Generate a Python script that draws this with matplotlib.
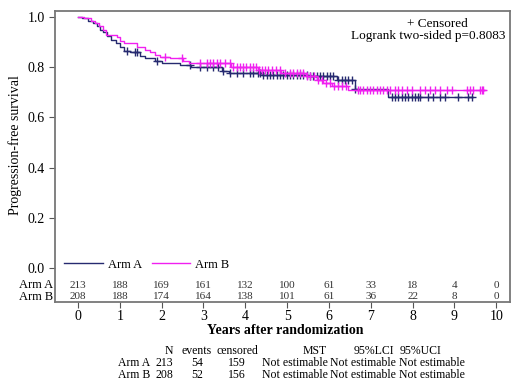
import numpy as np
import matplotlib.pyplot as plt

plt.rcParams['font.family'] = ['Liberation Serif', 'DejaVu Serif']

# Kaplan-Meier step points (time in years, survival after the step)
a_times = [0, 0.10, 0.25, 0.35, 0.45, 0.52, 0.60, 0.70, 0.80, 0.90, 1.00, 1.10, 1.25,
           1.48, 1.60, 1.85, 2.00, 2.45, 2.70, 3.45, 3.60, 4.40, 5.50, 6.20, 6.62, 7.42]
a_surv = [1.0, 0.995, 0.985, 0.975, 0.965, 0.95, 0.94, 0.925, 0.91, 0.895, 0.88, 0.865, 0.86,
          0.845, 0.835, 0.825, 0.815, 0.81, 0.80, 0.785, 0.775, 0.77, 0.765, 0.75, 0.712, 0.682]
a_end = 9.45
a_cens = [1.17, 1.36, 1.41, 1.89, 2.68, 2.92, 3.09, 3.23, 3.35, 3.47, 3.64, 3.80, 3.95, 4.11,
          4.19, 4.31, 4.35, 4.43, 4.52, 4.59, 4.67, 4.76, 4.83, 4.90, 5.00, 5.07, 5.14, 5.24,
          5.31, 5.38, 5.48, 5.55, 5.62, 5.72, 5.79, 5.86, 5.96, 6.03, 6.10, 6.22, 6.32, 6.39,
          6.46, 6.56, 6.63, 7.51, 7.58, 7.66, 7.75, 7.82, 7.89, 7.99, 8.06, 8.13, 8.18, 8.37,
          8.49, 8.66, 8.78, 9.09, 9.33, 9.43]

b_times = [0, 0.15, 0.30, 0.40, 0.50, 0.60, 0.68, 0.93, 1.00, 1.10, 1.40, 1.60, 1.72, 1.85,
           1.96, 2.20, 2.50, 2.65, 3.65, 4.30, 4.85, 5.45, 5.72, 5.86, 6.08, 6.45]
b_surv = [1.0, 0.995, 0.985, 0.975, 0.965, 0.95, 0.93, 0.92, 0.905, 0.895, 0.88, 0.87, 0.86,
          0.85, 0.84, 0.835, 0.825, 0.815, 0.80, 0.79, 0.777, 0.765, 0.75, 0.738, 0.726, 0.71]
b_end = 9.70
b_cens = [2.08, 2.49, 2.92, 3.09, 3.16, 3.23, 3.33, 3.40, 3.52, 3.64, 3.71, 3.80, 3.88, 3.95,
          4.02, 4.11, 4.19, 4.26, 4.33, 4.40, 4.47, 4.55, 4.64, 4.74, 4.83, 4.95, 5.07, 5.14,
          5.24, 5.31, 5.38, 5.48, 5.55, 5.65, 5.74, 5.84, 5.93, 6.03, 6.12, 6.22, 6.32, 6.41,
          6.70, 6.75, 6.82, 6.91, 6.99, 7.06, 7.15, 7.22, 7.30, 7.39, 7.46, 7.58, 7.66, 7.75,
          7.87, 7.99, 8.18, 8.30, 8.42, 8.54, 8.66, 8.83, 8.95, 9.31, 9.38, 9.45, 9.62, 9.67, 9.69]

years = list(range(0, 11))
risk_a = [213, 188, 169, 161, 132, 100, 61, 33, 18, 4, 0]
risk_b = [208, 188, 174, 164, 138, 101, 61, 36, 22, 8, 0]

navy = '#262a70'
magenta = '#f020f0'

fig = plt.figure(figsize=(5.2, 3.86), dpi=100)
ax = fig.add_axes([0.1058, 0.2176, 0.875, 0.754])


def km(ax, times, surv, end, cens, color, label):
    t = list(times) + [end]
    s = list(surv) + [surv[-1]]
    ax.step(t, s, where='post', color=color, lw=1.0, label=label)
    idx = np.searchsorted(times, cens, side='right') - 1
    ax.plot(cens, np.array(surv)[idx], ls='none', marker='+', ms=6, mew=1.0, color=color)


km(ax, a_times, a_surv, a_end, a_cens, navy, 'Arm A')
km(ax, b_times, b_surv, b_end, b_cens, magenta, 'Arm B')

ax.set_xlim(-0.55, 10.33)
ax.set_ylim(-0.135, 1.024)
ax.set_yticks([0, 0.2, 0.4, 0.6, 0.8, 1.0])
ax.set_yticklabels(['0.0', '0.2', '0.4', '0.6', '0.8', '1.0'], fontsize=10)
ax.set_xticks(years)
ax.set_xticklabels([str(y) for y in years], fontsize=10)
ax.tick_params(direction='out', length=4, color='#555555')
ax.tick_params(axis='x', pad=2)
for sp in ax.spines.values():
    sp.set_color('#777777')
    sp.set_linewidth(1.3)

for x, ra, rb in zip(years, risk_a, risk_b):
    ax.text(x, -0.068, str(ra), ha='center', va='center', fontsize=8, color='#333333')
    ax.text(x, -0.115, str(rb), ha='center', va='center', fontsize=8, color='#333333')
ax.text(-0.6, -0.068, 'Arm A', ha='right', va='center', fontsize=9)
ax.text(-0.6, -0.115, 'Arm B', ha='right', va='center', fontsize=9)

ax.legend(loc='lower left', bbox_to_anchor=(0.0, 0.078), ncol=2, frameon=False,
          fontsize=9, handlelength=3.1, handletextpad=0.4, columnspacing=0.8,
          borderaxespad=0.3)

ax.text(0.84, 0.955, '+ Censored', transform=ax.transAxes, ha='center', va='center', fontsize=9.5)
ax.text(0.99, 0.915, 'Logrank two-sided p=0.8083', transform=ax.transAxes, ha='right',
        va='center', fontsize=9.5)

fig.text(15 / 520, 1 - 145 / 386, 'Progression-free survival', rotation=90,
         ha='center', va='center', fontsize=10)
fig.text(285 / 520, 1 - 331 / 386, 'Years after randomization', ha='center', va='center',
         fontsize=10, fontweight='bold')

# summary table
rows = [['', 'N', 'events', 'censored', 'MST', '95%LCI', '95%UCI'],
        ['Arm A', '213', '54', '159', 'Not estimable', 'Not estimable', 'Not estimable'],
        ['Arm B', '208', '52', '156', 'Not estimable', 'Not estimable', 'Not estimable']]
col_x = [150, 173, 197, 237, 295, 363, 432]
col_ha = ['right', 'right', 'center', 'center', 'center', 'center', 'center']
head_x = [150, 173, 197, 237, 315, 374, 421]
row_y = [351, 363, 375]
for i, (r, y) in enumerate(zip(rows, row_y)):
    xs = head_x if i == 0 else col_x
    for txt, x, ha in zip(r, xs, col_ha):
        fig.text(x / 520, 1 - y / 386, txt, ha=ha, va='center', fontsize=8.5)

fig.savefig('out.png', dpi=100)
